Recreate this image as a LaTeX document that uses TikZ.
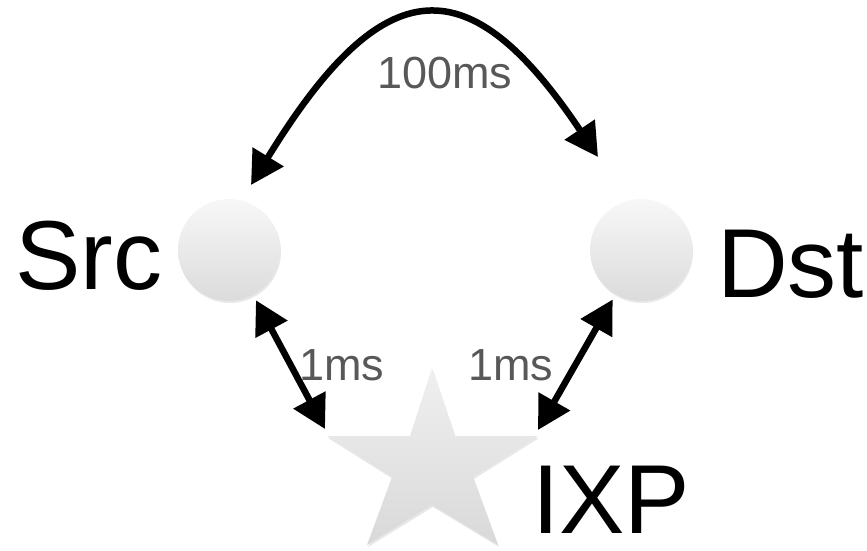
\documentclass[tikz,border=0pt]{standalone}
\usepackage{fontspec}
\setmainfont{Liberation Sans}
\usetikzlibrary{arrows.meta,shadows}
\definecolor{msgray}{RGB}{88,88,88}
\tikzset{
	host/.style={circle, minimum size=102pt, inner sep=0pt, outer sep=6pt, top color=gray!6, bottom color=gray!28, draw=none, drop shadow={opacity=0.18, shadow xshift=1pt, shadow yshift=-2pt}},
	link/.style={line width=6.5pt, {Triangle[length=33pt,width=35pt]}-{Triangle[length=33pt,width=35pt]}},
	biglabel/.style={inner sep=0pt, anchor=base west, text depth=0pt, font=\fontsize{98}{110}\selectfont},
	mslabel/.style={inner sep=0pt, anchor=base west, text=msgray, font=\fontsize{45}{50}\selectfont}
}
\begin{document}
\begin{tikzpicture}[x=1pt, y=-1pt]
	\useasboundingbox (0,0) rectangle (867,550);
	% hosts
	\node[host] (src) at (229,250) {};
	\node[host] (dst) at (641,250) {};
	% exchange point
	\path[top color=gray!12, bottom color=gray!30, drop shadow={opacity=0.18, shadow xshift=1pt, shadow yshift=-2pt}]
		(432,368) -- (410,436) -- (327,436) -- (392,477) -- (367,545) -- (432,505) -- (498,545) -- (473,477) -- (538,436) -- (455,436) -- cycle;
	\coordinate (ixpl) at (325,429);
	\coordinate (ixpr) at (538,430);
	% labels
	\node[biglabel] (srclabel) at (15,289) {Src};
	\node[biglabel] (dstlabel) at (717,297) {Dst};
	\node[biglabel] (ixplabel) at (532,533) {IXP};
	% links
	\coordinate (arcl) at (251,185);
	\coordinate (arcr) at (598,157);
	\draw[link] (arcl) .. controls (385,-34) and (470,-34) .. (arcr);
	\draw[link] (src) -- (ixpl);
	\draw[link] (dst) -- (ixpr);
	\node[mslabel] (longms) at (377,88) {100ms};
	\node[mslabel] (leftms) at (299,380) {1ms};
	\node[mslabel] (rightms) at (468,380) {1ms};
\end{tikzpicture}
\end{document}
